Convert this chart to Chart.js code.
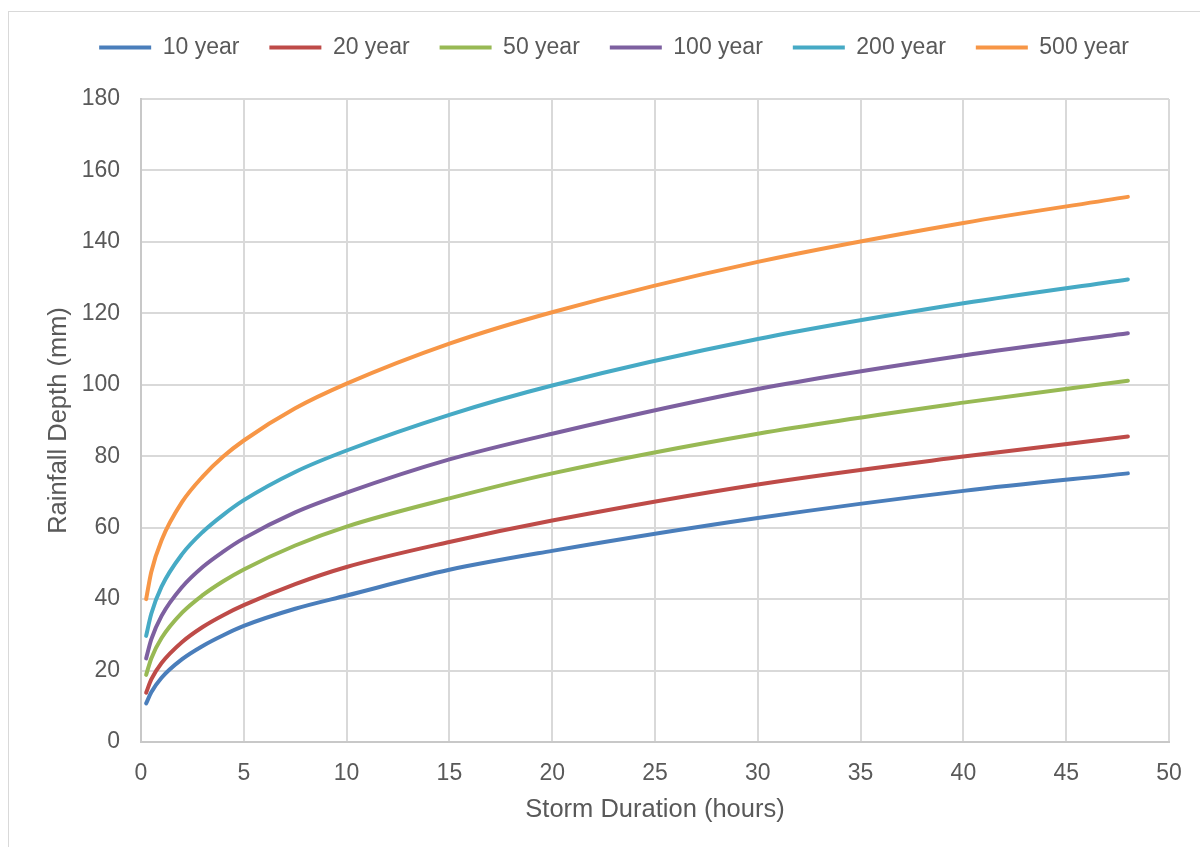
<!DOCTYPE html>
<html>
<head>
<meta charset="utf-8">
<script src="https://cdn.jsdelivr.net/npm/chart.js@4/dist/chart.umd.min.js"></script>
<style>
  html, body { margin: 0; padding: 0; background: #ffffff; overflow: hidden; width: 1200px; height: 847px; }
  #frame { position: absolute; left: 8px; top: 11px; width: 1212px; height: 860px; border: 1px solid #d9d9d9; box-sizing: border-box; pointer-events: none; z-index: 2; }
  #wrap { position: absolute; left: 8px; top: 6px; width: 1212px; height: 841px; z-index: 1; }
</style>
</head>
<body>
<div id="frame"></div>
<div id="wrap"><canvas id="c" width="1212" height="841"></canvas></div>
<script>
// Storm duration (hours) and rainfall depth (mm) for each return period
const durations = [0.25, 0.5, 1, 2, 3, 4, 5, 7.5, 10, 15, 20, 30, 40, 48];
const depth10yr  = [10.8, 13.9, 18.0, 23.2, 26.9, 29.9, 32.5, 37.3, 41.0, 48.2, 53.5, 62.7, 70.3, 75.2];
const depth20yr  = [13.8, 17.5, 22.1, 28.0, 32.2, 35.5, 38.3, 44.2, 49.0, 56.0, 62.0, 72.1, 79.9, 85.5];
const depth50yr  = [18.8, 23.4, 29.1, 36.2, 41.1, 45.0, 48.3, 55.0, 60.3, 68.2, 75.2, 86.3, 95.0, 101.1];
const depth100yr = [23.4, 28.7, 35.3, 43.4, 49.0, 53.3, 57.0, 64.3, 69.8, 79.1, 86.3, 98.8, 108.2, 114.4];
const depth200yr = [29.7, 35.9, 43.5, 52.6, 58.8, 63.6, 67.7, 75.6, 81.6, 91.6, 99.8, 112.8, 122.8, 129.5];
const depth500yr = [40.0, 47.6, 56.5, 67.2, 74.3, 79.9, 84.4, 93.4, 100.3, 111.5, 120.3, 134.4, 145.3, 152.6];

const seriesNames = ['10 year', '20 year', '50 year', '100 year', '200 year', '500 year'];
const seriesColors = ['#4a7ebb', '#be4b48', '#98b954', '#7d60a0', '#46aac5', '#f79646'];
const seriesValues = [depth10yr, depth20yr, depth50yr, depth100yr, depth200yr, depth500yr];

const xTicks = [0, 5, 10, 15, 20, 25, 30, 35, 40, 45, 50];
const yTicks = [0, 20, 40, 60, 80, 100, 120, 140, 160, 180];

const textColor = '#595959';
const gridColor = '#d9d9d9';
const fontFamily = '"Liberation Sans", Arial, sans-serif';

const datasets = seriesValues.map((vals, i) => ({
  label: seriesNames[i],
  data: durations.map((d, j) => ({ x: d, y: vals[j] })),
  borderColor: seriesColors[i],
  backgroundColor: seriesColors[i],
  borderWidth: 4,
  borderCapStyle: 'round',
  borderJoinStyle: 'round',
  pointRadius: 0,
  cubicInterpolationMode: 'monotone',
  fill: false
}));

// fixed legend block height so the plot starts below it
const legendHeight = {
  id: 'legendHeight',
  beforeInit(chart) {
    const origFit = chart.legend.fit;
    chart.legend.fit = function () {
      origFit.call(this);
      this.height = 93;
    };
  }
};

new Chart(document.getElementById('c'), {
  type: 'line',
  data: { datasets },
  plugins: [legendHeight],
  options: {
    responsive: false,
    animation: false,
    events: [],
    layout: { padding: { left: 0, right: 0, top: 0, bottom: 0 } },
    plugins: {
      tooltip: { enabled: false },
      legend: {
        position: 'top',
        align: 'center',
        labels: {
          color: textColor,
          font: { family: fontFamily, size: 23 },
          boxWidth: 52,
          boxHeight: 4,
          padding: 30,
          generateLabels(chart) {
            return Chart.defaults.plugins.legend.labels.generateLabels(chart)
              .map(l => Object.assign(l, { lineWidth: 0 }));
          }
        }
      }
    },
    scales: {
      x: {
        type: 'linear',
        min: 0,
        max: 50,
        afterBuildTicks(s) { s.ticks = xTicks.map(v => ({ value: v })); },
        afterFit(s) { s.height = 105; },
        grid: { color: gridColor, lineWidth: 2, drawTicks: false },
        border: { color: '#c8c8c8', width: 2 },
        ticks: { color: textColor, font: { family: fontFamily, size: 23 }, padding: 18, maxRotation: 0 },
        title: {
          display: true,
          text: 'Storm Duration (hours)',
          color: textColor,
          font: { family: fontFamily, size: 25.5 },
          padding: { top: 0, bottom: 22 }
        }
      },
      y: {
        type: 'linear',
        position: 'left',
        min: 0,
        max: 180,
        afterBuildTicks(s) { s.ticks = yTicks.map(v => ({ value: v })); },
        afterFit(s) { s.width = 133; },
        grid: { color: gridColor, lineWidth: 2, drawTicks: false },
        border: { color: '#c8c8c8', width: 2 },
        ticks: { color: textColor, font: { family: fontFamily, size: 23 }, padding: 21 },
        title: {
          display: true,
          text: 'Rainfall Depth (mm)',
          color: textColor,
          font: { family: fontFamily, size: 25.5 },
          padding: { top: 36, bottom: 0 }
        }
      },
      yRight: {
        type: 'linear',
        position: 'right',
        display: true,
        min: 0,
        max: 180,
        grid: { display: false, drawTicks: false },
        border: { display: false },
        ticks: { display: false },
        afterFit(s) { s.width = 51; }
      }
    }
  }
});
</script>
</body>
</html>
